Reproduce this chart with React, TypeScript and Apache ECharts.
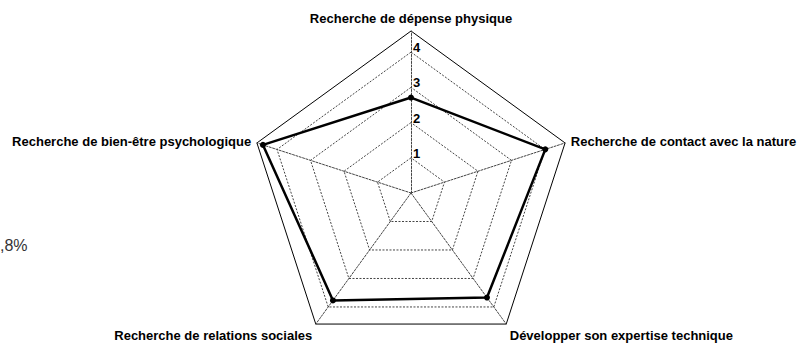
import React, { useEffect, useRef } from "react";
import * as echarts from "echarts";

const indicatorNames = [
  "Recherche de dépense physique",
  "Recherche de bien-être psychologique",
  "Recherche de relations sociales",
  "Développer son expertise technique",
  "Recherche de contact avec la nature",
];
const scores = [2.71, 4.42, 3.77, 3.67, 4.01];
const outerMax = 4.6;
const gridMax = 4;
const sideNote = ",8%";
const lowerNames = [indicatorNames[2], indicatorNames[3]];

export default function App() {
  const ref = useRef<HTMLDivElement>(null);
  useEffect(() => {
    document.body.style.margin = "0";
    if (!ref.current) return;
    const chart = echarts.init(ref.current, null, { renderer: "svg" });
    const cx = 411;
    const cy = 193;
    const R = 162;
    const font = "'Liberation Sans', Arial, sans-serif";
    chart.setOption({
      animation: false,
      backgroundColor: "#ffffff",
      radar: [
        {
          center: [cx, cy],
          radius: R,
          startAngle: 90,
          shape: "polygon",
          splitNumber: 1,
          indicator: indicatorNames.map((n) => ({
            name: n,
            min: 0,
            max: outerMax,
          })),
          axisName: {
            color: "#000",
            fontWeight: "bold",
            fontSize: 13,
            fontFamily: font,
            lineHeight: 14,
            formatter: (v: string) => (lowerNames.includes(v) ? "\n" + v : v),
          },
          nameGap: 6,
          splitLine: { lineStyle: { color: "#000", width: 1, type: "solid" } },
          splitArea: { show: false },
          axisLine: { lineStyle: { color: "#444", width: 1, type: [2, 1.5] } },
          axisTick: { show: false },
          axisLabel: { show: false },
        },
        {
          center: [cx, cy],
          radius: (R * gridMax) / outerMax,
          startAngle: 90,
          shape: "polygon",
          splitNumber: 4,
          indicator: indicatorNames.map((n, i) => ({
            name: "",
            min: 0,
            max: gridMax,
            ...(i === 0
              ? {
                  axisLabel: {
                    show: true,
                    showMinLabel: false,
                    color: "#000",
                    fontWeight: "bold",
                    fontSize: 13,
                    fontFamily: font,
                    margin: -2,
                    align: "left",
                    verticalAlign: "bottom",
                    lineHeight: 9,
                  },
                }
              : {}),
          })),
          axisName: { show: false },
          splitLine: { lineStyle: { color: "#444", width: 1, type: [2, 1.5] } },
          splitArea: { show: false },
          axisLine: { show: false },
          axisTick: { show: false },
          axisLabel: { show: false },
        },
      ],
      series: [
        {
          type: "radar",
          radarIndex: 0,
          symbol: "circle",
          symbolSize: 6,
          lineStyle: { color: "#000", width: 2.5 },
          itemStyle: { color: "#000" },
          data: [{ value: scores }],
        },
      ],
      graphic: [
        {
          type: "text",
          left: 0,
          top: 237,
          style: {
            text: sideNote,
            fill: "#333",
            font: `16px ${font}`,
          },
        },
      ],
    });
    return () => chart.dispose();
  }, []);
  return <div ref={ref} style={{ width: 800, height: 343 }} />;
}
